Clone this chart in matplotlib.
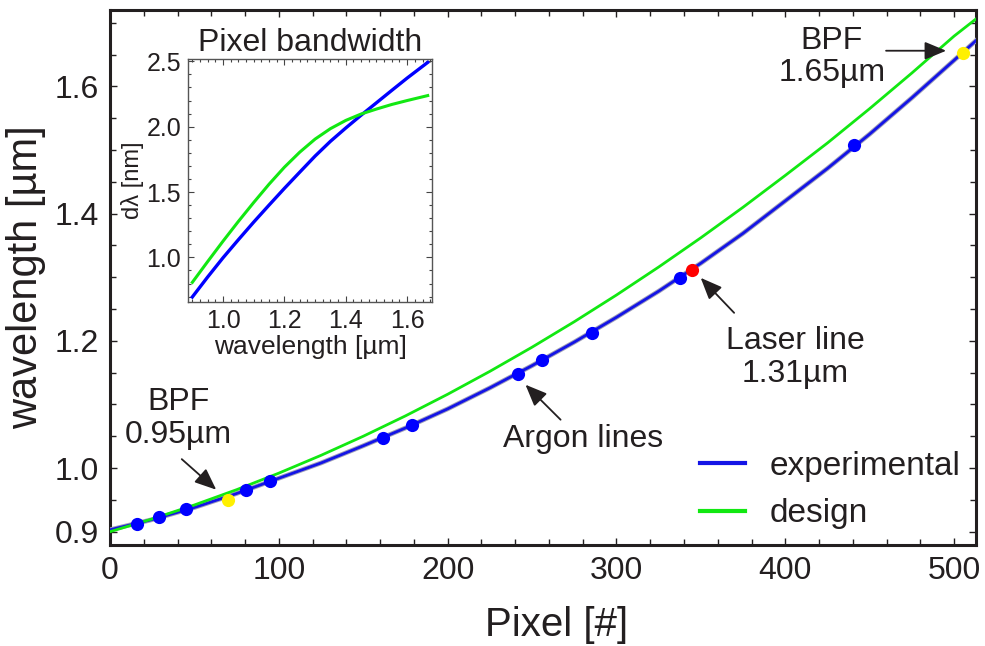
import matplotlib
matplotlib.use("Agg")
import matplotlib.pyplot as plt
import matplotlib.patheffects as pe
from matplotlib.ticker import FixedLocator, MultipleLocator

plt.rcParams['font.family'] = ['Liberation Sans', 'DejaVu Sans']
TXT = '#231f20'

# calibration curves (pixel -> wavelength in um)
curve_px = [0, 25, 50, 75, 100, 125, 150, 175, 200, 225, 250, 275, 300,
            325, 350, 375, 400, 425, 450, 475, 500, 513]
exp_wl = [0.903, 0.919, 0.938, 0.960, 0.984, 1.008, 1.035, 1.063, 1.093, 1.126, 1.161, 1.198,
          1.237, 1.278, 1.322, 1.369, 1.420, 1.471, 1.525, 1.582, 1.641, 1.672]
design_wl = [0.900, 0.920, 0.942, 0.966, 0.992, 1.020, 1.050, 1.082, 1.116, 1.152, 1.190, 1.230,
             1.272, 1.316, 1.362, 1.410, 1.460, 1.511, 1.565, 1.621, 1.679, 1.706]

# measured lines
argon_px = [15.8, 28.9, 45.0, 80.7, 94.5, 161.6, 179.0, 241.4, 255.6, 285.3, 337.5, 440.7]
argon_wl = [0.912, 0.923, 0.935, 0.966, 0.979, 1.047, 1.068, 1.148, 1.170, 1.213, 1.298, 1.508]
bpf_px = [69.8, 505.3]
bpf_wl = [0.950, 1.653]
laser_px = [344.6]
laser_wl = [1.311]

# inset: pixel bandwidth vs wavelength
bw_wl = [0.90, 0.95, 1.00, 1.05, 1.10, 1.15, 1.20, 1.25, 1.30, 1.35, 1.40,
         1.45, 1.50, 1.55, 1.60, 1.667]
bw_exp = [0.697, 0.850, 0.997, 1.135, 1.270, 1.400, 1.528, 1.652, 1.775, 1.888, 1.990,
          2.088, 2.183, 2.278, 2.372, 2.492]
bw_design = [0.809, 0.968, 1.124, 1.275, 1.420, 1.560, 1.690, 1.805, 1.905, 1.985, 2.048,
             2.097, 2.135, 2.170, 2.200, 2.238]

BLUE = '#1414e6'
GREEN = '#12e812'

fig = plt.figure(figsize=(9.85, 6.46), dpi=100)
ax = fig.add_axes([0.1117, 0.1563, 0.8792, 0.8282])

ax.plot(curve_px, exp_wl, color=BLUE, lw=2, label='experimental', zorder=3,
        path_effects=[pe.Stroke(linewidth=3.4, foreground='#a0a0b8'), pe.Normal()])
ax.plot(curve_px, design_wl, color=GREEN, lw=2, label='design', zorder=3)
ax.plot(argon_px, argon_wl, 'o', color='#0000ff', ms=9.5, mec='none', zorder=5)
ax.plot(bpf_px, bpf_wl, 'o', color='#fff000', ms=9.5, mec='none', zorder=5)
ax.plot(laser_px, laser_wl, 'o', color='#ff0000', ms=9.5, mec='none', zorder=5)

ax.set_xlim(0, 513)
ax.set_ylim(0.879, 1.72)
ax.xaxis.set_major_locator(MultipleLocator(100))
ax.xaxis.set_minor_locator(MultipleLocator(20))
ax.yaxis.set_major_locator(FixedLocator([0.9, 1.0, 1.2, 1.4, 1.6]))
ax.yaxis.set_minor_locator(MultipleLocator(0.05))
ax.tick_params(which='both', direction='in', top=True, right=True, width=1, colors=TXT,
               labelsize=23, labelcolor=TXT)
ax.tick_params(which='major', length=5, pad=8)
ax.tick_params(which='minor', length=4)
for s in ax.spines.values():
    s.set_linewidth(2.2)
    s.set_color(TXT)

ax.set_xlabel('Pixel [#]', fontsize=29, color=TXT)
ax.xaxis.set_label_coords(0.516, -0.114)
ax.set_ylabel('wavelength [µm]', fontsize=30, color=TXT, labelpad=6)

leg = ax.legend(loc='lower right', bbox_to_anchor=(1.017, -0.027), frameon=False, fontsize=24,
                handlelength=1.35, handletextpad=0.75, labelspacing=0.5)
for t in leg.get_texts():
    t.set_color(TXT)
for h in leg.get_lines():
    h.set_linewidth(3)
    h.set_path_effects([])

arrow = dict(arrowstyle='-|>,head_length=0.6,head_width=0.25', color=TXT, lw=1.3,
             mutation_scale=22, shrinkA=0, shrinkB=0)
ax.text(40.3, 1.078, 'BPF\n0.95µm', fontsize=23, color=TXT, ha='center', va='center',
        linespacing=1.1)
ax.annotate('', xy=(62.9, 0.966), xytext=(42.5, 1.014), arrowprops=arrow)
ax.text(280.5, 1.045, 'Argon lines', fontsize=23, color=TXT, ha='center', va='center')
ax.annotate('', xy=(246.1, 1.131), xytext=(266.9, 1.076), arrowprops=arrow)
ax.text(405.7, 1.174, 'Laser line\n1.31µm', fontsize=23, color=TXT, ha='center', va='center',
        linespacing=1.1)
ax.annotate('', xy=(349.9, 1.299), xytext=(369.7, 1.244), arrowprops=arrow)
ax.text(427.6, 1.646, 'BPF\n1.65µm', fontsize=23, color=TXT, ha='center', va='center',
        linespacing=1.1)
ax.annotate('', xy=(495.3, 1.656), xytext=(459.7, 1.656), arrowprops=arrow)

# inset
ins = fig.add_axes([0.1909, 0.533, 0.2477, 0.3757])
ins.plot(bw_wl, bw_exp, color='#0000ff', lw=2.4)
ins.plot(bw_wl, bw_design, color=GREEN, lw=2.2)
ins.set_xlim(0.886, 1.681)
ins.set_ylim(0.661, 2.518)
ins.xaxis.set_major_locator(FixedLocator([1.0, 1.2, 1.4, 1.6]))
ins.xaxis.set_minor_locator(MultipleLocator(0.025))
ins.yaxis.set_major_locator(FixedLocator([1.0, 1.5, 2.0, 2.5]))
ins.yaxis.set_minor_locator(MultipleLocator(0.1))
ins.tick_params(which='both', direction='in', top=True, right=True, width=0.8, colors='#444444',
                labelsize=18, labelcolor=TXT)
ins.tick_params(which='major', length=4, pad=5)
ins.tick_params(which='minor', length=2.5)
for s in ins.spines.values():
    s.set_linewidth(1)
    s.set_color('#555555')
ins.set_xlabel('wavelength [µm]', fontsize=19, color=TXT, labelpad=2)
ins.set_ylabel('dλ [nm]', fontsize=17, color=TXT, labelpad=2)
ins.set_title('Pixel bandwidth', fontsize=23, color=TXT, pad=6)

fig.savefig('out.png', dpi=100)
